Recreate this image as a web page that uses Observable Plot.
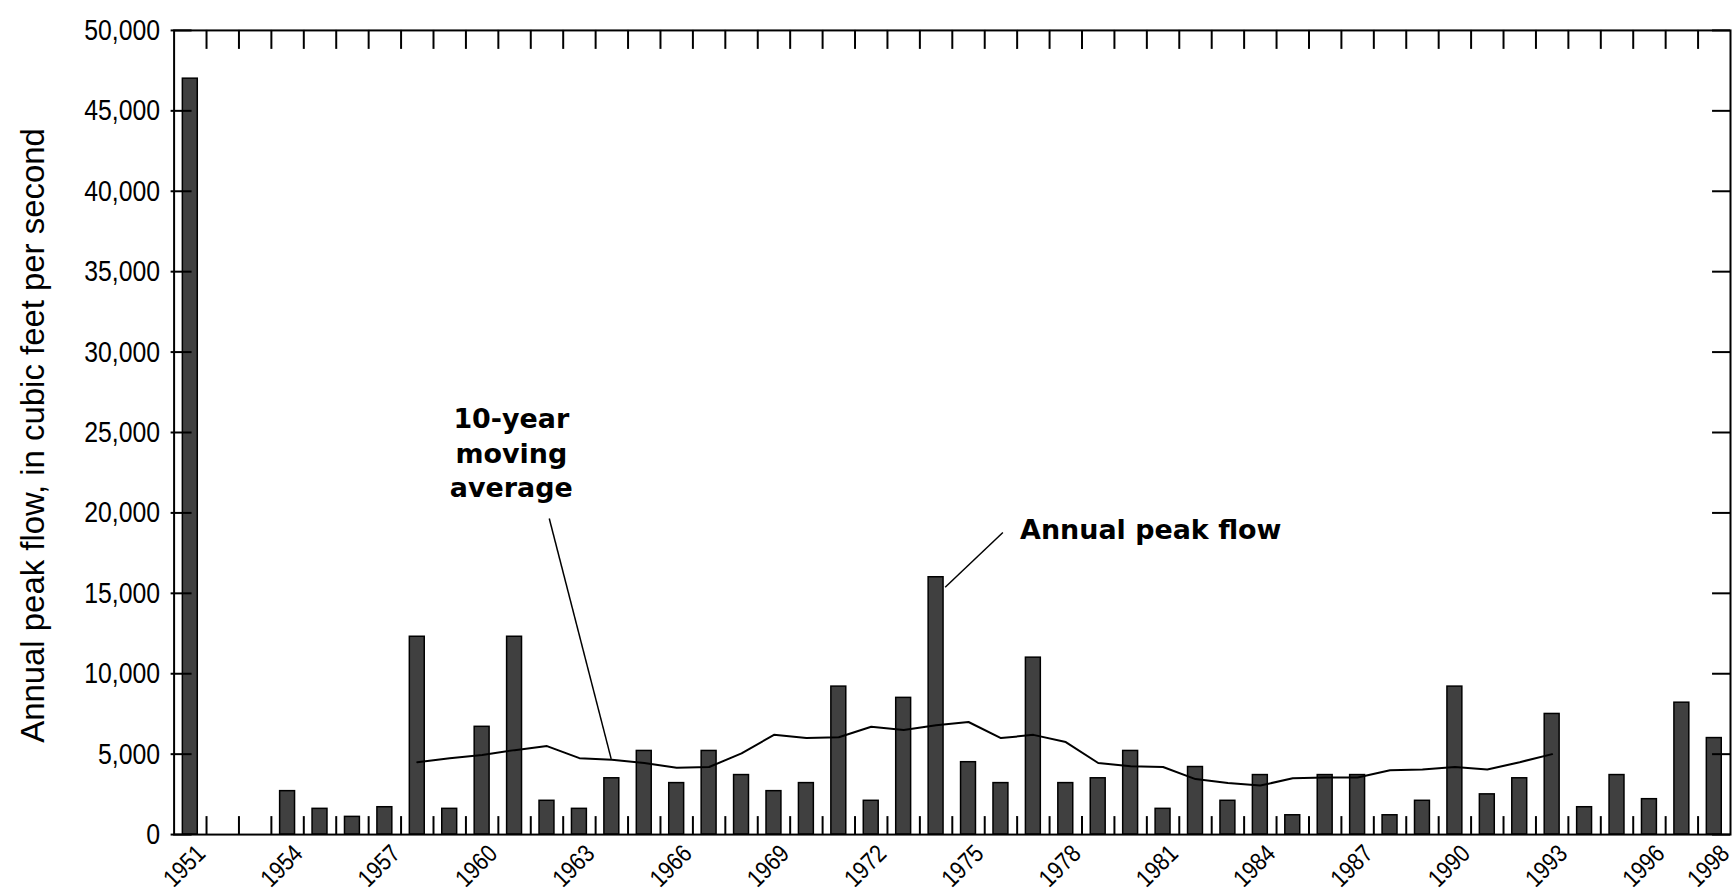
<!DOCTYPE html>
<html><head><meta charset="utf-8">
<script src="https://cdn.jsdelivr.net/npm/d3@7"></script>
<script src="https://cdn.jsdelivr.net/npm/@observablehq/plot@0.6"></script>
<style>html,body{margin:0;padding:0;background:#fff;overflow:hidden;} svg{display:block}</style>
</head><body><div id="chart"></div>
<script>
// ---- data ----
const years = [1951,1952,1953,1954,1955,1956,1957,1958,1959,1960,1961,1962,1963,1964,1965,1966,1967,1968,1969,1970,
  1971,1972,1973,1974,1975,1976,1977,1978,1979,1980,1981,1982,1983,1984,1985,1986,1987,1988,1989,1990,
  1991,1992,1993,1994,1995,1996,1997,1998];
const peakFlow = [47000,null,null,2700,1600,1100,1700,12300,1600,6700,12300,2100,1600,3500,5200,3200,5200,3700,2700,3200,
  9200,2100,8500,16000,4500,3200,11000,3200,3500,5200,1600,4200,2100,3700,1200,3700,3700,1200,2100,9200,
  2500,3500,7500,1700,3700,2200,8200,6000];
const maYears = [1958,1959,1960,1961,1962,1963,1964,1965,1966,1967,1968,1969,1970,1971,1972,1973,1974,1975,
  1976,1977,1978,1979,1980,1981,1982,1983,1984,1985,1986,1987,1988,1989,1990,1991,1992,1993];
const movingAvg = [4500,4750,4950,5250,5500,4750,4650,4450,4150,4200,5050,6200,6000,6050,6700,6500,6800,7000,
  6000,6200,5750,4450,4250,4200,3450,3200,3050,3500,3550,3550,4000,4050,4200,4050,4500,5000];
const yTicks = [0,5000,10000,15000,20000,25000,30000,35000,40000,45000,50000];
const xLabelYears = [1951,1954,1957,1960,1963,1966,1969,1972,1975,1978,1981,1984,1987,1990,1993,1996,1998];
const yTitle = "Annual peak flow, in cubic feet per second";
const maLabel = "10-year\nmoving\naverage";
const peakLabel = "Annual peak flow";

// ---- tables ----
const bars = years.map((y, i) => ({year: y, peak: peakFlow[i]})).filter(d => d.peak != null);
const ma = maYears.map((y, i) => ({year: y, value: movingAvg[i]}));
const boundaries = years.slice(0, -1).map(y => y + 0.5);

// ---- layout ----
const W = 1736, H = 894, mL = 174, mR = 2, mT = 30, mB = 58;
const plotW = W - mL - mR, plotH = H - mT - mB;
const sans = "'Liberation Sans',Arial,sans-serif";

const chart = Plot.plot({
  width: W, height: H,
  marginLeft: mL, marginRight: mR, marginTop: mT, marginBottom: mB,
  x: {domain: [years[0] - 0.5, years[years.length - 1] + 0.5], axis: null},
  y: {domain: [0, 50000], axis: null},
  style: {fontFamily: sans, background: "white", color: "black"},
  marks: [
    Plot.rectY(bars, {x1: d => d.year - 0.23, x2: d => d.year + 0.23, y: "peak",
      fill: "#404040", stroke: "black", strokeWidth: 1.5}),
    Plot.line(ma, {x: "year", y: "value", stroke: "black", strokeWidth: 2}),
    // ticks
    Plot.ruleY(yTicks, {y: d => d, insetLeft: -3, insetRight: plotW - 18, stroke: "black", strokeWidth: 2}),
    Plot.ruleY(yTicks, {y: d => d, insetLeft: plotW - 18, stroke: "black", strokeWidth: 2}),
    Plot.ruleX(boundaries, {x: d => d, insetBottom: plotH - 19, stroke: "black", strokeWidth: 2}),
    Plot.ruleX(boundaries, {x: d => d, insetTop: plotH - 18, stroke: "black", strokeWidth: 2}),
    Plot.frame({stroke: "black", strokeWidth: 2}),
    // tick labels
    Plot.text(yTicks, {y: d => d, frameAnchor: "left", text: d => d3.format(",")(d), textAnchor: "end",
      dx: -14, fontSize: 30, fontFamily: sans, fill: "black"}),
    Plot.text(xLabelYears, {x: d => d, frameAnchor: "bottom", text: d => String(d), rotate: -45,
      textAnchor: "end", lineAnchor: "middle", dx: 11, dy: 15, fontSize: 25, fontFamily: sans, fill: "black"}),
    // y title
    Plot.text([yTitle], {frameAnchor: "left", text: d => d, rotate: -90, dx: -141, dy: 3,
      textAnchor: "middle", fontSize: 33, fontFamily: sans, fill: "black", letterSpacing: "4.9px"}),
    // annotations
    Plot.text([maLabel], {x: 1960.9, y: 23800, text: d => d, fontSize: 27, fontWeight: "bold",
      fontFamily: "'DejaVu Sans',sans-serif", lineHeight: 1.28, fill: "black"}),
    Plot.link([{x1: 1962.07, y1: 19650, x2: 1963.98, y2: 4710}], {x1: "x1", y1: "y1", x2: "x2", y2: "y2",
      stroke: "black", strokeWidth: 1.5}),
    Plot.text([peakLabel], {x: 1976.59, y: 18900, text: d => d, textAnchor: "start", fontSize: 27,
      fontWeight: "bold", fontFamily: "'DejaVu Sans',sans-serif", fill: "black"}),
    Plot.link([{x1: 1976.06, y1: 18780, x2: 1974.28, y2: 15380}], {x1: "x1", y1: "y1", x2: "x2", y2: "y2",
      stroke: "black", strokeWidth: 1.5})
  ]
});
document.getElementById("chart").append(chart);

// condense tick labels to mimic the narrow face of the original
const yLabelSet = new Set(yTicks.map(d => d3.format(",")(d)));
const xLabelSet = new Set(xLabelYears.map(String));
chart.querySelectorAll("text").forEach(t => {
  const s = t.textContent;
  const k = yLabelSet.has(s) ? 0.83 : xLabelSet.has(s) ? 0.85 : null;
  if (k == null) return;
  const len = t.getComputedTextLength();
  t.setAttribute("textLength", (len * k).toFixed(1));
  t.setAttribute("lengthAdjust", "spacingAndGlyphs");
});
</script>
</body></html>
